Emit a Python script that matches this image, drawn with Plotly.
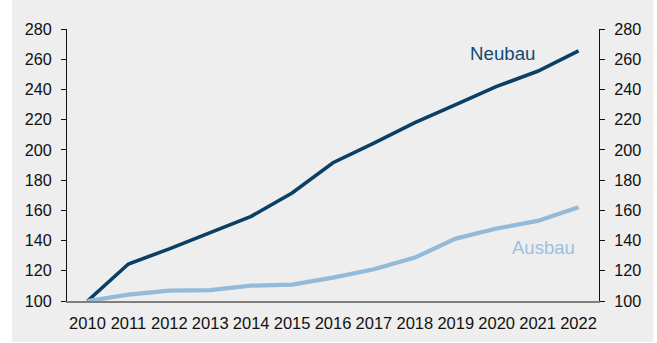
import plotly.graph_objects as go

years = [str(y) for y in range(2010, 2023)]
neubau = [100, 124.5, 134.5, 145, 156, 171.5, 191.5, 204.5, 218, 230, 242, 252, 265.5]
ausbau = [100, 104.2, 106.8, 107.2, 110.2, 110.8, 115.5, 121, 128.7, 141.3, 148, 153, 162]
y_ticks = [100, 120, 140, 160, 180, 200, 220, 240, 260, 280]

FONT = "Liberation Sans, Arial, sans-serif"
DARK = "#0B3F64"
LIGHT = "#93BAD9"

fig = go.Figure()
fig.add_trace(go.Scatter(x=years, y=neubau, mode="lines", name="Neubau",
                         line=dict(color=DARK, width=3.6), hoverinfo="skip"))
fig.add_trace(go.Scatter(x=years, y=ausbau, mode="lines", name="Ausbau",
                         line=dict(color=LIGHT, width=4.2), hoverinfo="skip"))
fig.add_trace(go.Scatter(x=years, y=neubau, mode="lines", yaxis="y2",
                         line=dict(color="rgba(0,0,0,0)", width=0), hoverinfo="skip",
                         showlegend=False))

axis_col = "#111111"
yax = dict(range=[100, 280], tickvals=y_ticks, ticks="outside", ticklen=5,
           tickcolor=axis_col, showline=True, linecolor=axis_col, linewidth=1.2,
           showgrid=False, zeroline=False, fixedrange=True,
           tickfont=dict(family=FONT, size=16.2, color="#111111"))

fig.update_layout(
    width=657, height=343,
    margin=dict(l=67, r=57.5, t=29, b=42),
    paper_bgcolor="white", plot_bgcolor="rgba(0,0,0,0)",
    showlegend=False,
    font=dict(family=FONT),
    xaxis=dict(type="category", range=[-0.5, 12.5], showline=True, linecolor="#7F7F7F",
               linewidth=1.6, ticks="", showgrid=False, zeroline=False,
               ticklabelstandoff=6,
               tickfont=dict(family=FONT, size=16.5, color="#111111")),
    yaxis=dict(**yax, side="left", ticklabelstandoff=6),
    yaxis2=dict(**yax, side="right", overlaying="y", ticklabelstandoff=6),
    shapes=[dict(type="rect", xref="paper", yref="paper", layer="below",
                 x0=(12 - 67) / 532.5, x1=(654 - 67) / 532.5,
                 y0=(301 - 342) / 272, y1=301 / 272,
                 fillcolor="#EEEEEE", line=dict(width=0))],
    annotations=[
        dict(x=10.13, y=263.5, xref="x", yref="y", text="Neubau", showarrow=False,
             font=dict(family=FONT, size=18.7, color="#134A72")),
        dict(x=11.15, y=135.4, xref="x", yref="y", text="Ausbau", showarrow=False,
             font=dict(family=FONT, size=18.5, color="#9DBFDD")),
    ],
)

fig.write_html("out.html")
